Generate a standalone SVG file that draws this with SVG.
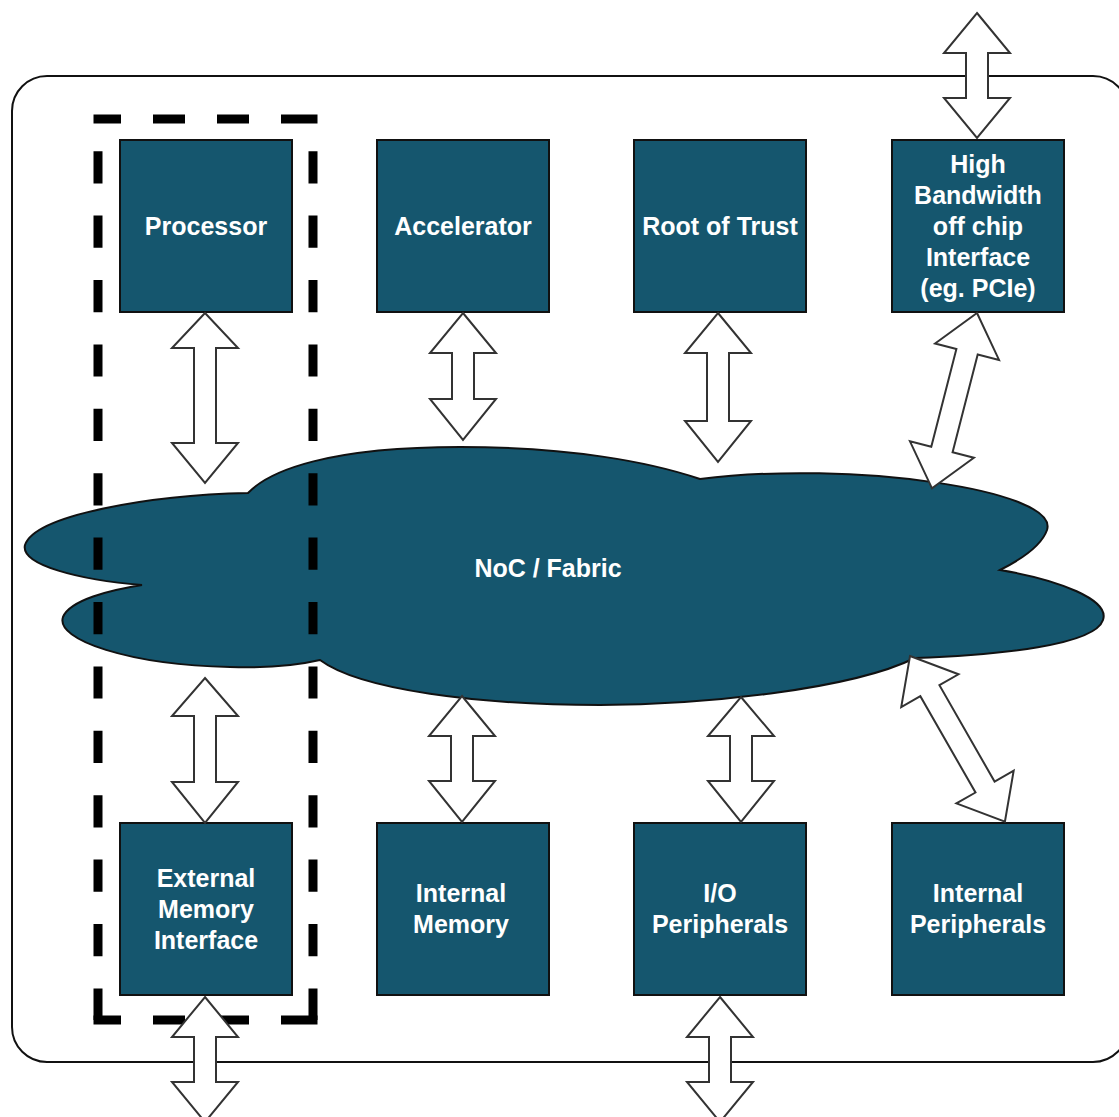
<svg xmlns="http://www.w3.org/2000/svg" width="1119" height="1117" viewBox="0 0 1119 1117">
<style>
.box{fill:#15566e;stroke:#111;stroke-width:2}
.lbl{font-family:"Liberation Sans",Arial,sans-serif;font-weight:bold;font-size:25px;fill:#ffffff;text-anchor:middle}
.arr{fill:#ffffff;stroke:#333;stroke-width:2;stroke-linejoin:miter}
.dh{fill:none;stroke:#000;stroke-width:9;stroke-dasharray:27.5 32 32 32 32 32 36.5 100}
.dv{fill:none;stroke:#000;stroke-width:9;stroke-dasharray:32.2 32.2;stroke-dashoffset:32.2}
</style>
<defs>
<polygon id="da125" points="0,0 33,40 11,40 11,85 33,85 0,125 -33,85 -11,85 -11,40 -33,40"/>
</defs>
<rect id="chip" x="12" y="76" width="1116" height="986" rx="35" ry="35" fill="#ffffff" stroke="#111" stroke-width="2"/>
<g id="noc">
<path d="M 248 493 C 270 470 330 447 460 447 C 570 447 650 462 700 479 C 850 460 1060 490 1047 530 C 1040 550 1010 565 1000 570 C 1060 580 1110 600 1103 620 C 1095 645 1000 655 915 658 C 850 690 700 705 600 705 C 480 705 360 690 320 660 C 290 667 260 668 230 667 C 130 665 55 640 63 617 C 70 600 110 590 142 585 C 80 580 20 565 25 545 C 35 515 150 495 248 493 Z" fill="#15566e" stroke="#111" stroke-width="2"/>
<text class="lbl" x="548" y="577">NoC / Fabric</text>
</g>
<g id="cpu-group">
<line class="dh" x1="93.5" y1="119" x2="317.5" y2="119"/>
<line class="dh" x1="93.5" y1="1020" x2="317.5" y2="1020"/>
<line class="dv" x1="98" y1="119" x2="98" y2="1020"/>
<line class="dv" x1="313" y1="119" x2="313" y2="1020"/>
</g>
<g id="processor">
<rect class="box" x="120" y="140" width="172" height="172"/>
<text class="lbl" x="206" y="235">Processor</text>
</g>
<g id="accelerator">
<rect class="box" x="377" y="140" width="172" height="172"/>
<text class="lbl" x="463" y="235">Accelerator</text>
</g>
<g id="root-of-trust">
<rect class="box" x="634" y="140" width="172" height="172"/>
<text class="lbl" x="720" y="235">Root of Trust</text>
</g>
<g id="hb-interface">
<rect class="box" x="892" y="140" width="172" height="172"/>
<text class="lbl" x="978" y="173">High</text>
<text class="lbl" x="978" y="204">Bandwidth</text>
<text class="lbl" x="978" y="235">off chip</text>
<text class="lbl" x="978" y="266">Interface</text>
<text class="lbl" x="978" y="297">(eg. PCIe)</text>
</g>
<g id="ext-mem-if">
<rect class="box" x="120" y="823" width="172" height="172"/>
<text class="lbl" x="206" y="887">External</text>
<text class="lbl" x="206" y="918">Memory</text>
<text class="lbl" x="206" y="949">Interface</text>
</g>
<g id="internal-memory">
<rect class="box" x="377" y="823" width="172" height="172"/>
<text class="lbl" x="461" y="902">Internal</text>
<text class="lbl" x="461" y="933">Memory</text>
</g>
<g id="io-peripherals">
<rect class="box" x="634" y="823" width="172" height="172"/>
<text class="lbl" x="720" y="902">I/O</text>
<text class="lbl" x="720" y="933">Peripherals</text>
</g>
<g id="internal-peripherals">
<rect class="box" x="892" y="823" width="172" height="172"/>
<text class="lbl" x="978" y="902">Internal</text>
<text class="lbl" x="978" y="933">Peripherals</text>
</g>
<g id="connectors">
<polygon class="arr" points="205,313 238,348 216,348 216,443 238,443 205,483 172,443 194,443 194,348 172,348"/>
<polygon class="arr" points="463,313 496,353 474,353 474,399 496,399 463,440 430,399 452,399 452,353 430,353"/>
<polygon class="arr" points="718,313 751,353 729,353 729,421 751,421 718,462 685,421 707,421 707,353 685,353"/>
<polygon class="arr" points="0,0 33,40 11,40 11,141 33,141 0,181 -33,141 -11,141 -11,40 -33,40" transform="translate(977,313) rotate(14.4)"/>
<polygon class="arr" points="205,678 238,716 216,716 216,782 238,782 205,823 172,782 194,782 194,716 172,716"/>
<polygon class="arr" points="462,696 495,736 473,736 473,781 495,781 462,822 429,781 451,781 451,736 429,736"/>
<polygon class="arr" points="741,697 774,736 752,736 752,781 774,781 741,822 708,781 730,781 730,736 708,736"/>
<polygon class="arr" points="0,0 33,40 11,40 11,151 33,151 0,191 -33,151 -11,151 -11,40 -33,40" transform="translate(910,656) rotate(-29.8)"/>
<use href="#da125" class="arr" x="977" y="13"/>
<use href="#da125" class="arr" x="205" y="997"/>
<use href="#da125" class="arr" x="720" y="997"/>
</g>
</svg>
